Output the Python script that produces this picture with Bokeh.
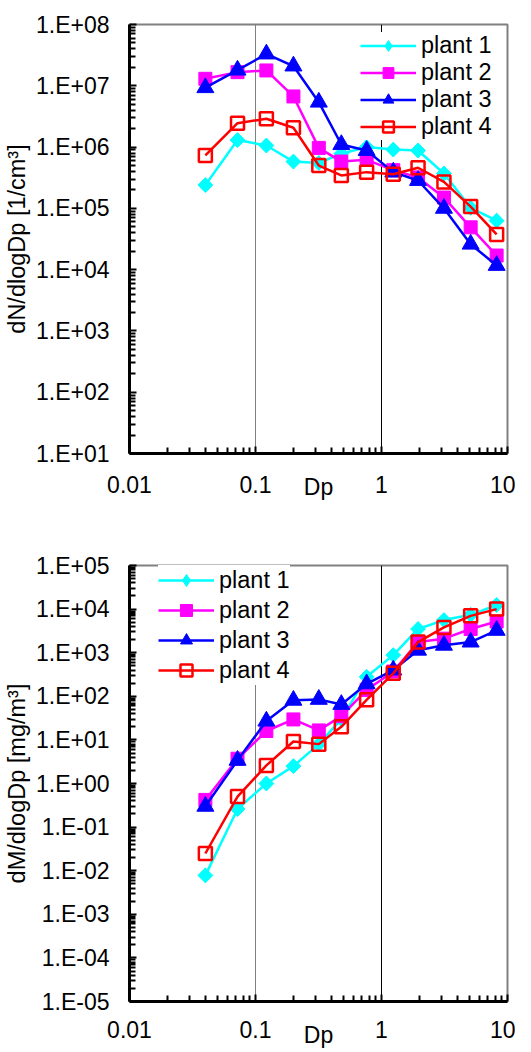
import math
from bokeh.plotting import figure
from bokeh.models import (FixedTicker, CustomJSTickFormatter, Legend, LegendItem,
                          Grid, Column)
from bokeh.embed import file_html
from bokeh.resources import INLINE

# ---------------- data ----------------
dp = [0.040, 0.072, 0.122, 0.200, 0.318, 0.480, 0.762, 1.24, 1.95, 3.13, 5.10, 8.20]

series_names = ["plant 1", "plant 2", "plant 3", "plant 4"]

n_plant1 = [2.4e5, 1.3e6, 1.06e6, 5.8e5, 5.5e5, 7.8e5, 1.0e6, 9.1e5, 8.8e5, 3.7e5, 1.02e5, 6.3e4]
n_plant2 = [1.3e7, 1.67e7, 1.78e7, 6.7e6, 9.7e5, 5.8e5, 6.2e5, 4.2e5, 3.2e5, 1.5e5, 4.9e4, 1.7e4]
n_plant3 = [9.3e6, 1.8e7, 3.3e7, 2.1e7, 5.4e6, 1.1e6, 8.8e5, 3.9e5, 2.85e5, 1.0e5, 2.6e4, 1.17e4]
n_plant4 = [7.3e5, 2.45e6, 2.9e6, 2.07e6, 5.0e5, 3.45e5, 3.9e5, 3.6e5, 4.6e5, 2.7e5, 1.07e5, 3.75e4]

m_plant1 = [7.8e-3, 0.26, 1.0, 2.5, 8.0, 30, 280, 880, 3500, 5600, 7400, 12400]
m_plant2 = [0.42, 3.7, 16, 29.5, 16.5, 35, 140, 370, 1750, 2100, 3500, 5200]
m_plant3 = [0.3, 3.4, 27, 81, 85, 65, 193, 400, 1140, 1480, 1750, 3250]
m_plant4 = [0.0248, 0.5, 2.6, 9.2, 8.0, 20, 83, 336, 1750, 3800, 7000, 10000]

x_ticks = [0.01, 0.1, 1, 10]

FONT = "Liberation Sans"
FS = "23px"
FS_LEG = "23.5px"
FS_TITLE = "23.5px"

styles = [
    dict(marker="square", angle=math.pi / 4, size=10.5, fill_color="#00FFFF", color="#00FFFF", leg_marker="diamond"),
    dict(marker="square", angle=0, size=13, fill_color="#FF00FF", color="#FF00FF", leg_marker=None),
    dict(marker="triangle", angle=0, size=17, fill_color="#0000FF", color="#0000FF", leg_marker=None),
    dict(marker="square", angle=0, size=13, fill_color=None, color="#FF0000", leg_marker=None),
]


def minor(lo, hi):
    out = []
    for e in range(lo, hi):
        for k in range(2, 10):
            out.append(k * 10.0 ** e)
    return out


def make_fig(height, ylo, yhi, border_left, border_top, border_bottom, ylabel,
             series, legend_loc, glyph_h, std_x, dp_standoff):
    p = figure(width=515, height=height, x_axis_type="log", y_axis_type="log",
               x_range=(0.01, 10), y_range=(10.0 ** ylo, 10.0 ** yhi),
               output_backend="svg", toolbar_location=None,
               min_border_left=border_left, min_border_right=8,
               min_border_top=border_top, min_border_bottom=border_bottom)
    p.background_fill_color = "white"
    p.border_fill_color = "white"
    p.outline_line_color = "#808080"
    p.outline_line_width = 2

    # axes
    p.xaxis.ticker = FixedTicker(ticks=x_ticks, minor_ticks=minor(-2, 1))
    p.yaxis.ticker = FixedTicker(ticks=[10.0 ** k for k in range(ylo, yhi + 1)],
                                 minor_ticks=minor(ylo, yhi))
    p.xaxis.formatter = CustomJSTickFormatter(code="return String(parseFloat(tick.toPrecision(6)));")
    p.yaxis.formatter = CustomJSTickFormatter(code="""
        const e = Math.round(Math.log10(tick));
        const s = String(Math.abs(e)).padStart(2, "0");
        return "1.E" + (e < 0 ? "-" : "+") + s;
    """)
    for ax in (p.xaxis[0], p.yaxis[0]):
        ax.axis_line_color = "black"
        ax.axis_line_width = 3
        ax.major_tick_in = 7
        ax.major_tick_out = 0
        ax.minor_tick_in = 6
        ax.minor_tick_out = 0
        ax.major_tick_line_color = "black"
        ax.minor_tick_line_color = "black"
        ax.major_tick_line_width = 2
        ax.minor_tick_line_width = 2
        ax.major_label_text_font = FONT
        ax.major_label_text_font_size = FS
        ax.major_label_text_color = "black"
        ax.axis_label_text_font = FONT
        ax.axis_label_text_font_style = "normal"
        ax.axis_label_text_color = "black"
    p.xaxis.major_label_standoff = std_x
    p.yaxis.major_label_standoff = 20
    p.yaxis.axis_label = ylabel
    p.yaxis.axis_label_text_font_size = FS_TITLE
    p.yaxis.axis_label_standoff = 3
    p.xaxis.axis_label = "Dp"
    p.xaxis.axis_label_text_font_size = FS
    p.xaxis.axis_label_standoff = dp_standoff

    # grids
    p.ygrid.visible = False
    p.xgrid.ticker = FixedTicker(ticks=[0.1])
    p.xgrid.grid_line_color = "#808080"
    p.xgrid.grid_line_width = 1
    g2 = Grid(dimension=0, ticker=FixedTicker(ticks=[1]), grid_line_color="black", grid_line_width=1)
    p.add_layout(g2)

    items = []
    for name, vals, st in zip(series_names, series, styles):
        lg = None
        if st["leg_marker"]:
            # diamond glyph used for the legend (Bokeh legends ignore marker angle);
            # it is fully covered by the rotated-square markers drawn on top
            lg = p.scatter(dp, vals, marker=st["leg_marker"], size=14,
                           fill_color=st["fill_color"], line_color=st["color"])
        lr = p.line(dp, vals, line_color=st["color"], line_width=2.5)
        sr = p.scatter(dp, vals, marker=st["marker"], angle=st["angle"], size=st["size"],
                       fill_color=st["fill_color"], line_color=st["color"],
                       line_width=2.5 if st["fill_color"] is None else 1)
        items.append(LegendItem(label=name, renderers=[lr, lg if lg is not None else sr]))

    leg = Legend(items=items, location=legend_loc, glyph_width=56, glyph_height=glyph_h,
                 label_height=glyph_h, spacing=0, padding=3, margin=0, label_standoff=5,
                 border_line_color=None, background_fill_color="white", background_fill_alpha=1.0,
                 label_text_font=FONT, label_text_font_size=FS_LEG, label_text_color="black")
    p.add_layout(leg)
    return p


p1 = make_fig(512, 1, 8, 123, 24, 59, "dN/dlogDp [1/cm³]",
              [n_plant1, n_plant2, n_plant3, n_plant4], (231, 313), 27, 22, -22)
p2 = make_fig(538, -5, 5, 125, 53, 44, "dM/dlogDp [mg/m³]",
              [m_plant1, m_plant2, m_plant3, m_plant4], (29, 316), 30, 19, -19)

layout = Column(children=[p1, p2], spacing=0)
open("out.html", "w").write(file_html(layout, INLINE))
